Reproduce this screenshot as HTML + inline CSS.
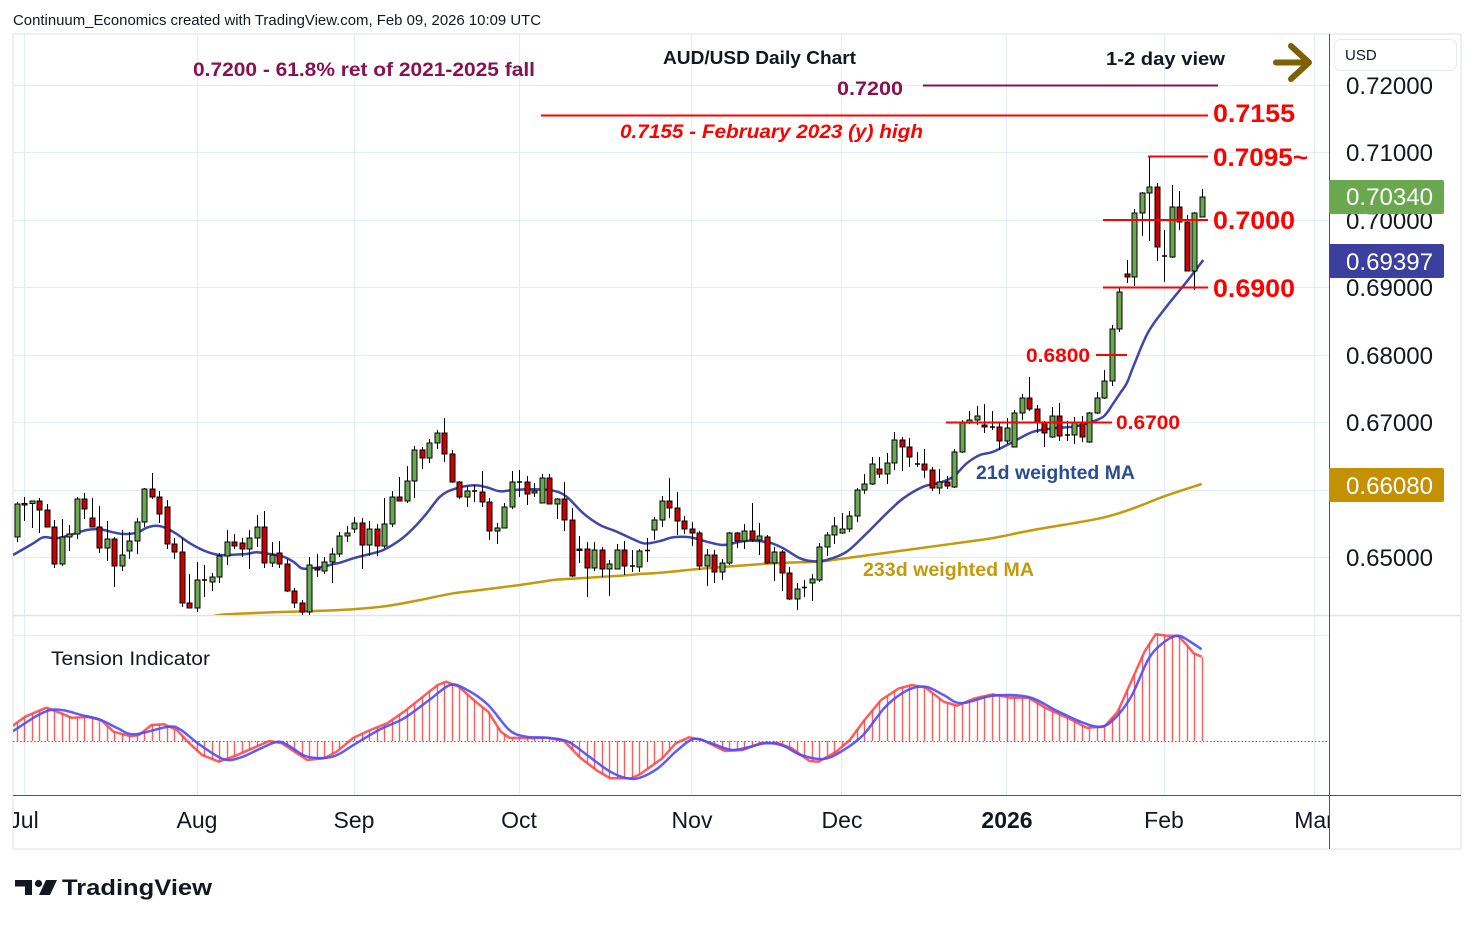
<!DOCTYPE html>
<html><head><meta charset="utf-8">
<style>
html,body{margin:0;padding:0;background:#fff;}
svg{display:block;font-family:"Liberation Sans","DejaVu Sans",sans-serif;}
</style></head>
<body>
<svg id="s" width="1474" height="925" viewBox="0 0 1474 925" xmlns="http://www.w3.org/2000/svg">
<defs>
<clipPath id="cm"><rect x="13" y="35" width="1316" height="580"/></clipPath>
<clipPath id="ci"><rect x="13" y="616" width="1316" height="179"/></clipPath>
<clipPath id="ct"><rect x="13" y="796" width="1316" height="53"/></clipPath>
</defs>
<rect width="1474" height="925" fill="#fff"/>
<text x="13" y="25" font-size="15" fill="#131722" textLength="528" lengthAdjust="spacingAndGlyphs">Continuum_Economics created with TradingView.com, Feb 09, 2026 10:09 UTC</text>

<g stroke="#e3ebf3" stroke-width="1" fill="none">
<path d="M13,85.5H1329M13,152.5H1329M13,220.5H1329M13,287.5H1329M13,355.5H1329M13,422.5H1329M13,490.5H1329M13,557.5H1329M13,635.5H1329"/>
<path d="M24.5,35V795M197.5,35V795M354.5,35V795M519.5,35V795M691.5,35V795M841.5,35V795M1006.5,35V795M1164.5,35V795M1314.5,35V795"/>
</g>
<rect x="13" y="34" width="1448" height="815" fill="none" stroke="#eceff3" stroke-width="2"/>
<path d="M13,615.5H1461" stroke="#e0e3eb" stroke-width="1.5"/>

<g id="main" clip-path="url(#cm)"></g>
<g id="ind" clip-path="url(#ci)"></g>

<path d="M1329.5,34V849M13,795.5H1461" stroke="#50535e" stroke-width="1"/>

<!-- annotations -->
<text x="663" y="64" font-size="18" font-weight="bold" fill="#131722" textLength="193" lengthAdjust="spacingAndGlyphs">AUD/USD Daily Chart</text>
<text x="1106" y="65" font-size="18" font-weight="bold" fill="#131722" textLength="119" lengthAdjust="spacingAndGlyphs">1-2 day view</text>
<path d="M1276,62.5H1305M1291,46L1309,62.5L1291,79" stroke="#7f6000" stroke-width="6" fill="none" stroke-linecap="round" stroke-linejoin="round"/>
<text x="193" y="76" font-size="19" font-weight="bold" fill="#8a1150" textLength="342" lengthAdjust="spacingAndGlyphs">0.7200 - 61.8% ret of 2021-2025 fall</text>
<text x="837" y="95" font-size="19" font-weight="bold" fill="#8a1150" textLength="66" lengthAdjust="spacingAndGlyphs">0.7200</text>
<path d="M923,85.5H1218" stroke="#8a1150" stroke-width="2"/>
<g stroke="#ff0000" stroke-width="2" fill="none">
<path d="M541,115.5H1208M1148,156.5H1208M1103,220H1208M1103,287.5H1208M1096,355H1127M946,422.5H1112"/>
</g>
<g font-weight="bold" fill="#ff0000">
<text x="1213" y="122" font-size="25" textLength="82" lengthAdjust="spacingAndGlyphs">0.7155</text>
<text x="620" y="138" font-size="19" font-style="italic" textLength="303" lengthAdjust="spacingAndGlyphs">0.7155 - February 2023 (y) high</text>
<text x="1213" y="166" font-size="25" textLength="95" lengthAdjust="spacingAndGlyphs">0.7095~</text>
<text x="1213" y="229" font-size="25" textLength="82" lengthAdjust="spacingAndGlyphs">0.7000</text>
<text x="1213" y="297" font-size="25" textLength="82" lengthAdjust="spacingAndGlyphs">0.6900</text>
<text x="1026" y="362" font-size="19" textLength="64" lengthAdjust="spacingAndGlyphs">0.6800</text>
<text x="1116" y="429" font-size="19" textLength="64" lengthAdjust="spacingAndGlyphs">0.6700</text>
</g>
<text x="976" y="479" font-size="19" font-weight="bold" fill="#2a4d8f" textLength="159" lengthAdjust="spacingAndGlyphs">21d weighted MA</text>
<text x="863" y="576" font-size="19" font-weight="bold" fill="#c49a0a" textLength="171" lengthAdjust="spacingAndGlyphs">233d weighted MA</text>
<text x="51" y="665" font-size="19" fill="#131722" textLength="159" lengthAdjust="spacingAndGlyphs">Tension Indicator</text>

<!-- price axis -->
<rect x="1334.5" y="39.5" width="122" height="31" rx="6" fill="#fff" stroke="#e6e9ef"/>
<text x="1345" y="60" font-size="15" fill="#131722">USD</text>
<g font-size="24" fill="#131722">
<text x="1346" y="94" textLength="87" lengthAdjust="spacingAndGlyphs">0.72000</text>
<text x="1346" y="161" textLength="87" lengthAdjust="spacingAndGlyphs">0.71000</text>
<text x="1346" y="229" textLength="87" lengthAdjust="spacingAndGlyphs">0.70000</text>
<text x="1346" y="296" textLength="87" lengthAdjust="spacingAndGlyphs">0.69000</text>
<text x="1346" y="364" textLength="87" lengthAdjust="spacingAndGlyphs">0.68000</text>
<text x="1346" y="431" textLength="87" lengthAdjust="spacingAndGlyphs">0.67000</text>
<text x="1346" y="566" textLength="87" lengthAdjust="spacingAndGlyphs">0.65000</text>
</g>
<rect x="1329" y="180" width="115" height="34" rx="2" fill="#6aa84f"/>
<rect x="1329" y="244" width="115" height="34" rx="2" fill="#3b3f9e"/>
<rect x="1329" y="468" width="115" height="34" rx="2" fill="#c49102"/>
<g font-size="24" fill="#fff">
<text x="1346" y="205" textLength="87" lengthAdjust="spacingAndGlyphs">0.70340</text>
<text x="1346" y="270" textLength="87" lengthAdjust="spacingAndGlyphs">0.69397</text>
<text x="1346" y="494" textLength="87" lengthAdjust="spacingAndGlyphs">0.66080</text>
</g>

<!-- time axis -->
<g clip-path="url(#ct)" font-size="23" fill="#131722" text-anchor="middle">
<text x="24" y="828">Jul</text>
<text x="197" y="828">Aug</text>
<text x="354" y="828">Sep</text>
<text x="519" y="828">Oct</text>
<text x="692" y="828">Nov</text>
<text x="842" y="828">Dec</text>
<text x="1007" y="828" font-weight="bold">2026</text>
<text x="1164" y="828">Feb</text>
<text x="1314" y="828">Mar</text>
</g>

<!-- logo -->
<g fill="#131722">
<path d="M15,880H32V895H25V886.5H15Z"/>
<circle cx="38.5" cy="883.5" r="3.6"/>
<path d="M46,880H57L50,895H39Z"/>
</g>
<text x="62" y="895" font-size="22" font-weight="bold" fill="#131722" textLength="150" lengthAdjust="spacingAndGlyphs">TradingView</text>
</svg>
<script>
(function(){
var NS="http://www.w3.org/2000/svg";
function el(parent,tag,attrs){var e=document.createElementNS(NS,tag);for(var k in attrs)e.setAttribute(k,attrs[k]);parent.appendChild(e);return e;}
function smooth(p){var d='M'+p[0][0]+','+p[0][1];for(var i=0;i<p.length-1;i++){var p0=p[i-1]||p[i],p1=p[i],p2=p[i+1],p3=p[i+2]||p2;var c1x=p1[0]+(p2[0]-p0[0])/6,c1y=p1[1]+(p2[1]-p0[1])/6,c2x=p2[0]-(p3[0]-p1[0])/6,c2y=p2[1]-(p3[1]-p1[1])/6;d+='C'+c1x.toFixed(1)+','+c1y.toFixed(1)+' '+c2x.toFixed(1)+','+c2y.toFixed(1)+' '+p2[0]+','+p2[1];}return d;}
function interp(p,x){if(x<=p[0][0])return p[0][1];for(var i=0;i<p.length-1;i++){if(x>=p[i][0]&&x<=p[i+1][0]){var t=(x-p[i][0])/(p[i+1][0]-p[i][0]);return p[i][1]+t*(p[i+1][1]-p[i][1]);}}return p[p.length-1][1];}
var D=[
[502,504,537,542,'g'],[497,503.5,505,521,'r'],[501,501,503.5,528,'g'],[498,501,510,533,'r'],[504,510,527,527.5,'r'],
[520,527,564,568,'r'],[519,537,564,566,'g'],[525,534,537,551,'g'],[497,499,534,539,'g'],[493,499,509,519,'r'],
[498,518,527,527.5,'r'],[506,527,548,553,'r'],[521,539,548,561,'g'],[537,539,566,587,'r'],[530,555,566,571,'g'],
[532,541,551,559,'g'],[518,522,541,554,'g'],[488,489,522,527,'g'],[473,489,497,499,'r'],[491,497,514,523,'r'],
[500,507,544,549,'r'],[538,544,552,559,'r'],[538,552,603,607,'r'],[574,603,608,608.5,'r'],[562,580,608,612,'g'],
[565,580,580.5,597,'d'],[573,577,582,591,'g'],[553,556,577,583,'g'],[530,542,556,565,'g'],[534,542,546,549,'r'],
[538,543,549,557,'r'],[530,538,549,569,'g'],[515,527,538,547,'g'],[511,527,563,568,'r'],[542,555,563,567,'g'],
[541,553,564,568,'r'],[559,564,591,592,'r'],[588,591,603,608,'r'],[600,603,612,615,'r'],[557,565,612,615,'g'],
[554,568,570,577,'r'],[557,562,571,574,'g'],[548,554,562,583,'g'],[532,536,554,557,'g'],[526,533,536,542,'g'],
[517,523,529,533,'g'],[518,523,545,569,'r'],[521,529,545,556,'g'],[524,529,546,556,'r'],[498,524,546,548,'g'],
[491,497,524,527,'g'],[477,497,501,501.5,'r'],[466,481,501,503,'g'],[446,450,481,498,'g'],[447,450,458,469,'r'],
[439,443,458,463,'g'],[430,433,443,449,'g'],[418,433,454,462,'r'],[450,454,482,483,'r'],[481,482,497,499,'r'],
[486,491,497,507,'g'],[485,491,491.5,502,'d'],[471,492,502,507,'r'],[498,502,531,540,'r'],[523,528,531,544,'g'],
[503,507,528,528.5,'g'],[471,482,507,509,'g'],[470,482,482.5,497,'d'],[476,482,494,505,'r'],[483,491,493,497,'g'],
[474,478,503,503.5,'g'],[474,478,504,504.5,'r'],[498,499,504,519,'g'],[482,499,520,531,'r'],[508,520,576,577,'r'],
[536,549,550.5,563,'r'],[542,549,568,597,'r'],[542,550,568,571,'g'],[547,550,569,577,'r'],[560,564,569,596,'g'],
[544,550,569,569.5,'g'],[541,550,566,575,'r'],[550,566,566.5,572,'d'],[549,551,567,572,'g'],[538,550.5,551,562,'d'],
[517,520,530,540,'g'],[496,501,520,527,'g'],[478,501,508,518,'r'],[492,508,521,535,'r'],[516,521,529,534,'r'],
[522,529,533,546,'r'],[531,533,566,570,'r'],[549,555,566,586,'g'],[550,555,572,583,'r'],[559,563,572,580,'g'],
[532,533,563,565,'g'],[532,533,541,548,'r'],[524,531,541,549,'g'],[503,531,540,542,'r'],[523,536,540,555,'g'],
[535,537,563,564,'r'],[547,552,563,581,'g'],[550,552,573,591,'r'],[567,573,599,600,'r'],[583,589,599,610,'g'],
[580,587.5,588,597,'d'],[574,579,583,601,'g'],[543,547,580,582,'g'],[532,535,547,556,'g'],[517,526,535,544,'g'],
[513,529,533,534,'g'],[511,516,529,532,'g'],[488,490,516,522,'g'],[474,484,490,494,'g'],[457,464,484,485,'g'],
[457,469,474,478,'r'],[453,463,474,484,'g'],[432,440,463,470,'g'],[437,440,447,471,'r'],[438,447,457,467,'r'],
[452,464,464.5,467,'d'],[449,464,470,478,'r'],[467,470,488,491,'r'],[469,482,488,494,'g'],[476,482,486,489,'r'],
[449,452,487,488,'g'],[420,422,452,453,'g'],[411,420,423,424,'g'],[406,416,420,425,'g'],[404,425,427,433,'r'],
[411,427,427.5,430,'d'],[423,427,441,450,'r'],[418,428,441,444,'g'],[410,413,447,447.5,'g'],[394,398,413,420,'g'],
[377,398,409,411,'r'],[405,409,423,433,'r'],[421,423,433,447,'r'],[407,416,437,438,'g'],[403,416,436,441,'r'],
[421,435,435.5,441,'d'],[417,423,435,444,'g'],[416,423,437,442,'r'],[412,413,442,443,'g'],[392,398,413,414,'g'],
[370,381,398,399,'g'],[325,329,381,386,'g'],[288,292,329,332,'g'],[260,274,277,283,'r'],[209,213,277,286,'g'],
[192,193,213,236,'g'],[156,187,193,241,'g'],[183,187,247,261,'r'],[230,256,256.5,282,'d'],[185,207,257,258,'g'],
[191,207,222,230,'r'],[215,222,271,271.5,'r'],[212,213,271,290,'g'],[189,197,217,217.5,'g']
];
var MA21=[[13,555],[33.3,543.3],[43.3,537.3],[56.7,538.3],[70,535],[86.7,530],[100,529.3],[113.3,532.3],[123.3,534],[136.7,532.7],[146.7,527.7],[156.7,525.7],[166.7,528.3],[176.7,534],[190,543.3],[206.7,551.7],[220,555],[233.3,554.7],[246.7,554],[256.7,552.3],[270,554],[283.3,556.7],[293.3,561.7],[301.7,568.3],[310,568.3],[323.3,566.7],[333.3,564],[340,562.7],[353.3,558.3],[370,554],[383.3,550],[400,540],[413.3,528.3],[426.7,513.3],[440,496.7],[453.3,489.3],[473.3,485.3],[486.7,487.3],[500,491.3],[513.3,490],[533.3,489.3],[553.3,490.7],[566.7,496.7],[583.3,513.3],[600,525],[616.7,531.7],[633.3,539.3],[645,543.5],[660,541],[673.3,537.3],[690,537.3],[706.7,541.7],[723.3,545],[740,541.7],[753.3,540.7],[770,542.7],[783.3,548.3],[800,558.3],[813.3,561.3],[826.7,560],[846.7,551.7],[866.7,533.3],[886.7,513.3],[903.3,498.3],[923.3,486.7],[940,482.7],[953.3,476.7],[966.7,463.3],[980,455],[993.3,451.7],[1013.3,441.7],[1033.3,431.7],[1053.3,428.3],[1073.3,426.7],[1086.7,423.3],[1103.3,416.7],[1113.3,403.3],[1120,393.3],[1126.7,383.3],[1133.3,366.7],[1148,332.5],[1165,308.5],[1186.7,281.7],[1203.3,260]];
var MA233=[[212,616.5],[226.7,614.3],[280,612],[340,610],[386.7,606],[420,600],[453.3,593.3],[486.7,589.3],[520,585],[553.3,580],[566.7,579],[620,575.7],[640,574],[660,572.7],[706.7,568.3],[773.3,563.3],[816.7,561.7],[840,559],[906.7,550],[980,540],[1000,536.7],[1033.3,530],[1100,518.3],[1133.3,508.3],[1163.3,496.7],[1201.7,484]];
var RED=[[13,726],[14.7,724.3],[25.3,716.7],[46.3,707.7],[58.9,712.3],[71.5,717.7],[88.4,717],[101,720],[113.6,731.7],[130.5,736.3],[138.9,735],[151.5,725],[164.1,724.3],[176.8,730],[189.4,743.3],[202,755],[218.9,761.7],[235.7,755.7],[252.5,748.3],[269.4,741],[282,743.3],[294.6,751.7],[307.2,760],[324,758.3],[336.7,751.7],[353.5,737.7],[370.4,730],[387.2,723.3],[404,711.7],[420.9,698.3],[437.7,685],[446.1,681.7],[458.8,686.7],[475.6,701.7],[488.2,711.7],[500.8,731.7],[509.3,737.7],[530.3,738.3],[547.1,737.7],[564,741],[580.8,758.3],[597.6,771],[610.3,778.3],[631.3,778.3],[640,774.3],[662.3,758.3],[675.7,743.3],[689.1,737.3],[702.5,740],[724.8,751],[742.7,750],[760.5,743.3],[778.4,743.3],[791.8,748.3],[809.6,761],[818.6,761.7],[836.4,751.7],[849.8,740],[863.2,721.7],[881.1,700],[898.9,688.3],[912.3,685],[925.7,687.7],[943.6,701.7],[957,705.7],[974.8,698.3],[992.7,694.3],[1010.5,697.7],[1028.4,697.7],[1046.3,708.3],[1068.6,718.3],[1086.4,727.7],[1104.3,726.7],[1117.7,711.7],[1131.1,681.7],[1144.5,651.7],[1155.6,634.3],[1166.8,635.7],[1178,635.7],[1186.9,645],[1193.6,653.3],[1201.6,656.7]];
var BLUE=[[13,731],[14.7,730],[50.5,710],[84.2,715.7],[101,720],[117.8,728.3],[134.7,734.3],[168.4,726.7],[181,730],[197.8,743.3],[223,759],[239.9,757.7],[260.9,748.3],[277.8,741.7],[290.4,746.7],[307.2,756.7],[332.5,756.7],[353.5,745],[378.8,730],[404,718.3],[429.3,700],[450.3,685],[467.2,690],[488.2,705],[509.3,730],[526.1,736.7],[547.1,737.7],[568.2,741.7],[589.2,756.7],[610.3,771.7],[627.1,778.3],[640,777.7],[657.9,768.3],[675.7,751.7],[693.6,739],[711.4,743.3],[733.8,750],[765,743.3],[782.9,745.7],[800.7,755],[823,759],[840.9,751.7],[863.2,735],[885.5,706.7],[907.9,690],[925.7,686.7],[943.6,695],[961.4,703.3],[992.7,695.7],[1028.4,697],[1055.2,710],[1082,722.3],[1099.8,726.7],[1113.2,720],[1131.1,696.7],[1148.9,658.3],[1164.6,641.7],[1178,635.7],[1189.1,641],[1201.6,649.3]];

var m=document.getElementById('main');
el(m,'path',{d:smooth(MA233),stroke:'#c49a0a','stroke-width':2.5,fill:'none'});
el(m,'path',{d:smooth(MA21),stroke:'#3f47a8','stroke-width':2.5,fill:'none'});
for(var i=0;i<D.length;i++){
 var c=D[i],x=Math.round(16.5+7.5*i),xc=x+0.5;
 el(m,'line',{x1:xc,x2:xc,y1:c[0],y2:c[3],stroke:'#000','stroke-width':1});
 if(c[4]==='d'){
  el(m,'line',{x1:x-2,x2:x+3,y1:c[1],y2:c[1],stroke:'#000','stroke-width':1.5});
 } else {
  var h=Math.max(c[2]-c[1],1.5);
  el(m,'rect',{x:x-2,y:c[1],width:5,height:h,fill:c[4]==='g'?'#6aa84f':'#cc0000',stroke:'#000','stroke-width':1});
 }
}
var g=document.getElementById('ind');
el(g,'line',{x1:13,x2:1329,y1:741.5,y2:741.5,stroke:'#ff3030','stroke-width':1,'stroke-dasharray':'1.5,2'});
for(var j=0;j<159;j++){
 var xx=Math.round(16.5+7.5*j)+0.5;
 var yy=interp(RED,xx);
 el(g,'line',{x1:xx,x2:xx,y1:741,y2:yy.toFixed(1),stroke:'#ff4a4a','stroke-width':1.4,'stroke-opacity':0.9});
}
el(g,'polyline',{points:RED.map(function(p){return p[0]+','+p[1];}).join(' '),stroke:'#ff4040','stroke-width':2.5,'stroke-opacity':0.85,fill:'none','stroke-linejoin':'round'});
el(g,'path',{d:smooth(BLUE),stroke:'#4b4bff','stroke-width':2.5,'stroke-opacity':0.9,fill:'none'});
})();
</script>
</body></html>
